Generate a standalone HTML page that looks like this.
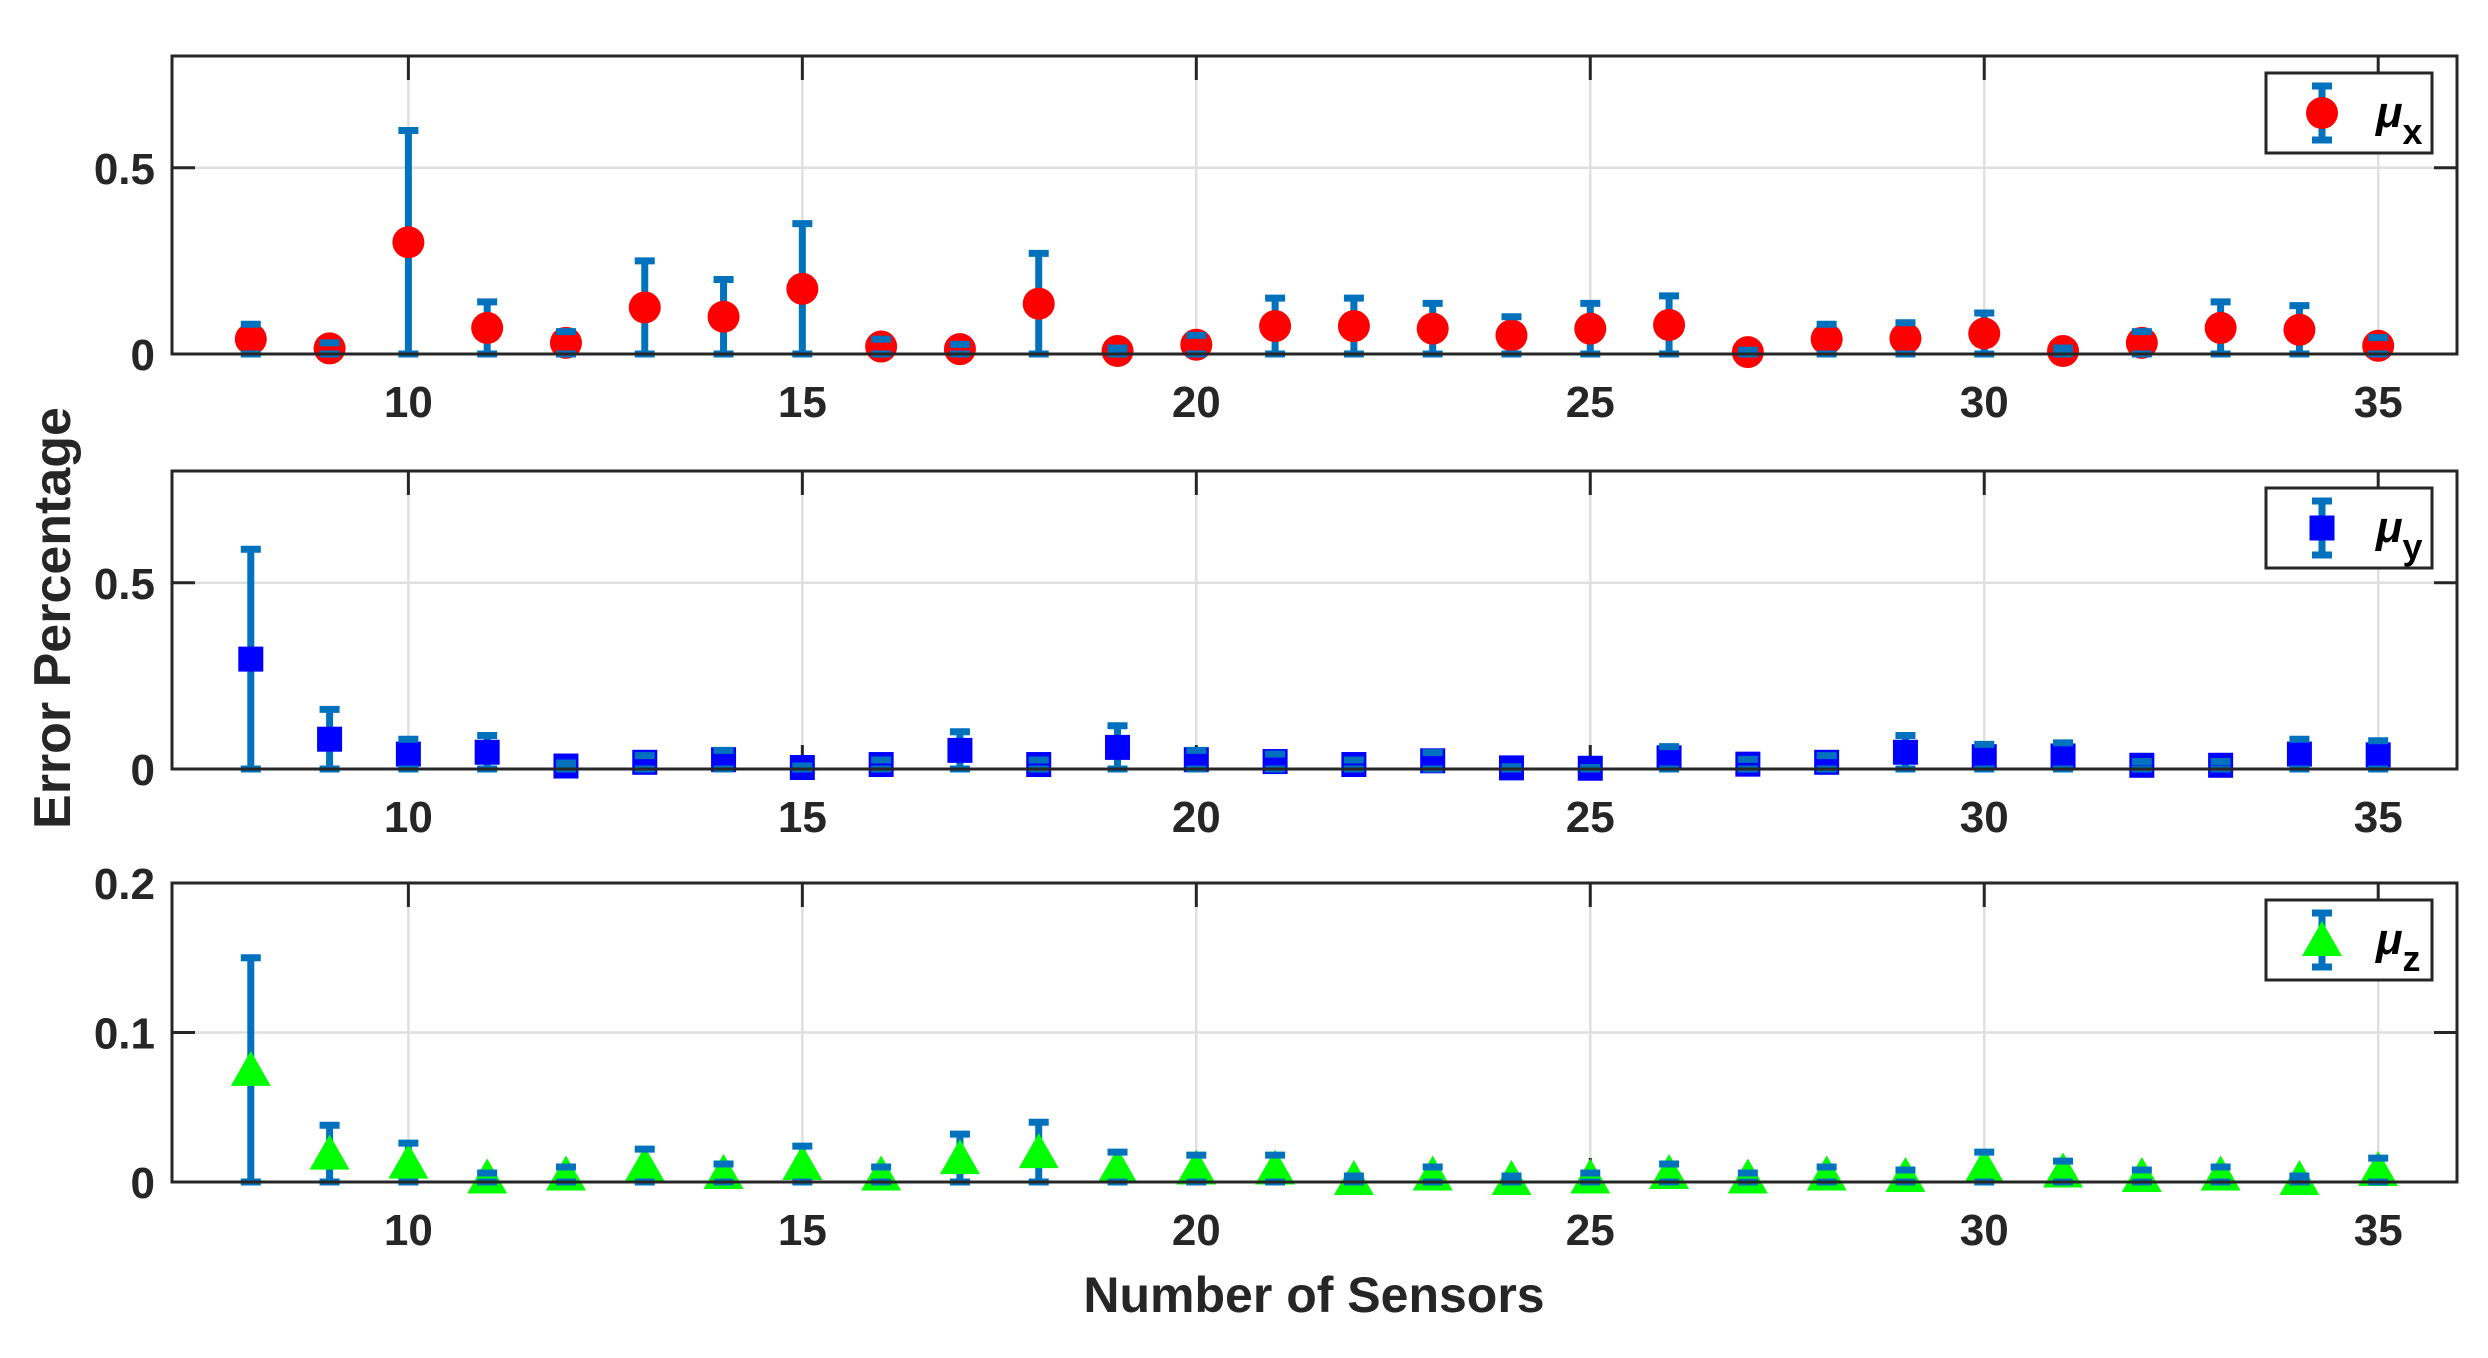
<!DOCTYPE html>
<html><head><meta charset="utf-8"><style>
html,body{margin:0;padding:0;background:#fff;}
svg text{font-family:"Liberation Sans",sans-serif;font-weight:bold;fill:#262626;}
</style></head><body>
<svg id="s" width="2488" height="1353" viewBox="0 0 2488 1353" xmlns="http://www.w3.org/2000/svg">
<rect width="2488" height="1353" fill="#fff"/>
<g id="g"></g>
<text x="0" y="0" font-size="52" transform="translate(70,618) rotate(-90)" text-anchor="middle">Error Percentage</text>
<text x="1314" y="1312" font-size="50" text-anchor="middle">Number of Sensors</text>
</svg>
<script>
var g=document.getElementById('g');var ns='http://www.w3.org/2000/svg';
function el(t,a,txt){var e=document.createElementNS(ns,t);for(var k in a)e.setAttribute(k,a[k]);if(txt!=null)e.textContent=txt;g.appendChild(e);return e;}
var L=172,R=2457;function X(v){return L+(v-7)*(R-L)/29;}
var panels=[
{top:56,bot:354,ymax:0.8,yt:[0,0.5],lab:['0','0.5'],mk:'c',col:'#ff0000',sub:'x',
d:[.04,.015,.30,.07,.03,.125,.1,.175,.02,.013,.135,.008,.025,.075,.075,.068,.05,.068,.078,.005,.04,.042,.055,.008,.03,.07,.065,.022]},
{top:471,bot:769,ymax:0.8,yt:[0,0.5],lab:['0','0.5'],mk:'s',col:'#0000ff',sub:'y',
d:[.295,.08,.04,.045,.008,.018,.025,.004,.012,.05,.012,.058,.025,.02,.012,.022,.003,.002,.03,.013,.018,.045,.033,.035,.01,.01,.04,.038]},
{top:883,bot:1182,ymax:0.2,yt:[0,0.1,0.2],lab:['0','0.1','0.2'],mk:'t',col:'#00ff00',sub:'z',
d:[.075,.019,.013,.003,.005,.011,.006,.012,.005,.016,.02,.01,.009,.009,.002,.005,.002,.003,.006,.003,.005,.004,.01,.007,.004,.005,.002,.008]}];
var EB='#0072bd';
function marker(t,x,y,c){
 if(t=='c')el('circle',{cx:x,cy:y,r:16,fill:c});
 else if(t=='s')el('rect',{x:x-12.5,y:y-12.5,width:25,height:25,fill:c});
 else el('polygon',{points:(x)+','+(y-19)+' '+(x+20)+','+(y+16)+' '+(x-20)+','+(y+16),fill:c});
}
function ebar(t,x,y,y1,y2,c){
 el('line',{x1:x,y1:y1,x2:x,y2:y2,stroke:EB,'stroke-width':7});
 marker(t,x,y,c);
 el('line',{x1:x-10,y1:y1,x2:x+10,y2:y1,stroke:EB,'stroke-width':7});
 el('line',{x1:x-10,y1:y2,x2:x+10,y2:y2,stroke:EB,'stroke-width':7});
}
panels.forEach(function(p){
 var H=p.bot-p.top;function Y(v){return p.bot-v/p.ymax*H;}
 for(var v=10;v<=35;v+=5)el('line',{x1:X(v),y1:p.top,x2:X(v),y2:p.bot,stroke:'#dfdfdf','stroke-width':2.5});
 p.yt.forEach(function(v){el('line',{x1:L,y1:Y(v),x2:R,y2:Y(v),stroke:'#dfdfdf','stroke-width':2.5});});
 for(var v=10;v<=35;v+=5){el('line',{x1:X(v),y1:p.top,x2:X(v),y2:p.top+24,stroke:'#262626','stroke-width':3});
  el('line',{x1:X(v),y1:p.bot,x2:X(v),y2:p.bot-24,stroke:'#262626','stroke-width':3});
  el('text',{x:X(v),y:p.bot+63,'font-size':44,'text-anchor':'middle'},String(v));}
 p.yt.forEach(function(v,i){el('line',{x1:L,y1:Y(v),x2:L+23,y2:Y(v),stroke:'#262626','stroke-width':3});
  el('line',{x1:R,y1:Y(v),x2:R-23,y2:Y(v),stroke:'#262626','stroke-width':3});
  el('text',{x:155,y:Y(v)+16,'font-size':44,'text-anchor':'end'},p.lab[i]);});
 p.d.forEach(function(m,i){var x=X(8+i);ebar(p.mk,x,Y(m),Y(2*m),Y(0),p.col);});
 el('rect',{x:L,y:p.top,width:R-L,height:H,fill:'none',stroke:'#262626','stroke-width':3});
 var ly=p.top+17;
 el('rect',{x:2266,y:ly,width:166,height:80,fill:'#fff',stroke:'#262626','stroke-width':3});
 var cy=ly+40;ebar(p.mk,2322,cy,cy-27,cy+27,p.col);
 var t=el('text',{x:2376,y:cy+14,'font-size':44,style:'fill:#000'});
 var a=document.createElementNS(ns,'tspan');a.setAttribute('font-style','italic');a.textContent='μ';t.appendChild(a);
 var b=document.createElementNS(ns,'tspan');b.setAttribute('dy','17');b.setAttribute('font-size','36');b.textContent=p.sub;t.appendChild(b);
});
</script>
</body></html>
